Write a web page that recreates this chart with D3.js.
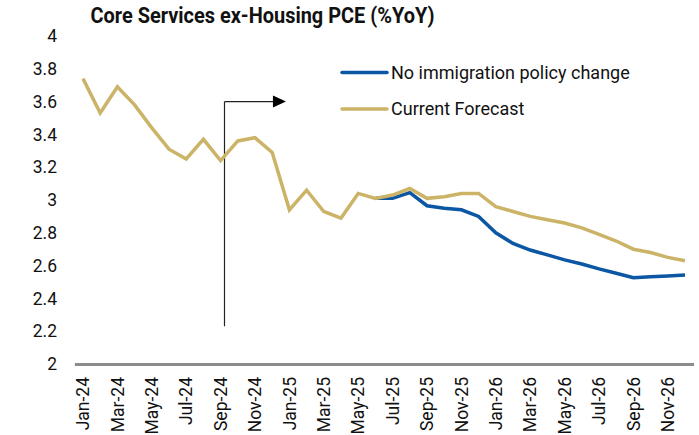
<!DOCTYPE html>
<html><head><meta charset="utf-8">
<script src="https://cdn.jsdelivr.net/npm/d3@7"></script>
<style>body{margin:0;background:#fff}svg{display:block}text{font-family:Roboto,"Liberation Sans",sans-serif;fill:#111}</style>
</head><body>
<svg id="c" width="699" height="435"></svg>
<script>
const months = ["Jan-24","Feb-24","Mar-24","Apr-24","May-24","Jun-24","Jul-24","Aug-24","Sep-24","Oct-24","Nov-24","Dec-24",
"Jan-25","Feb-25","Mar-25","Apr-25","May-25","Jun-25","Jul-25","Aug-25","Sep-25","Oct-25","Nov-25","Dec-25",
"Jan-26","Feb-26","Mar-26","Apr-26","May-26","Jun-26","Jul-26","Aug-26","Sep-26","Oct-26","Nov-26","Dec-26"];
const currentForecast = [3.74,3.53,3.69,3.58,3.44,3.31,3.25,3.37,3.24,3.36,3.38,3.29,
2.94,3.06,2.93,2.89,3.04,3.01,3.03,3.07,3.01,3.02,3.04,3.04,
2.96,2.93,2.90,2.88,2.86,2.83,2.79,2.75,2.70,2.68,2.65,2.63];
const noPolicyChange = [null,null,null,null,null,null,null,null,null,null,null,null,
null,null,null,null,null,3.01,3.01,3.045,2.965,2.95,2.94,2.90,
2.80,2.735,2.695,2.665,2.635,2.61,2.58,2.553,2.526,2.532,2.537,2.543];
const yTicks = [2,2.2,2.4,2.6,2.8,3,3.2,3.4,3.6,3.8,4];
const xTickLabels = months.filter((d,i)=>i%2===0);
const seriesNames = ["No immigration policy change","Current Forecast"];
const seriesColors = ["#0B57A4","#CBB468"];
const annotation = {startIndex:8.18, top:3.6, bottom:2.23, arrowEnd:11.8};

const svg = d3.select("#c");
const x = d3.scaleBand().domain(months).range([74.4,693.6]);
const y = d3.scaleLinear().domain([2,4]).range([364,36]);
const cx = m => x(m)+x.bandwidth()/2;
const xi = i => x.range()[0] + x.bandwidth()*(i+0.5);

svg.append("text").attr("x",90.5).attr("y",23).attr("font-weight","bold").attr("font-size",22.5)
  .attr("textLength",344).attr("lengthAdjust","spacingAndGlyphs")
  .text("Core Services ex-Housing PCE (%YoY)");

// y axis labels
const ya = svg.append("g").attr("transform","translate(57,0)")
  .call(d3.axisLeft(y).tickValues(yTicks).tickSize(0).tickPadding(0).tickFormat(d3.format("")));
ya.select(".domain").remove();
ya.selectAll("text").attr("font-size",17.5).attr("font-family","Roboto").attr("fill","#111");

// x axis
const xa = svg.append("g").attr("transform","translate(0,364)")
  .call(d3.axisBottom(x).tickValues(xTickLabels).tickSize(0).tickPadding(0));
xa.select(".domain").attr("stroke","#8c8c8c").attr("stroke-width",3);
xa.selectAll("text").attr("font-size",17.5).attr("font-family","Roboto").attr("fill","#111")
  .attr("transform","rotate(-90)").attr("text-anchor","end").attr("dy","0.35em").attr("x",-13).attr("y",0);

// annotation
const ax = Math.round(xi(annotation.startIndex))+0.5;
svg.append("line").attr("x1",ax).attr("x2",ax).attr("y1",y(annotation.top)).attr("y2",y(annotation.bottom))
  .attr("stroke","#222").attr("stroke-width",1.2);
const tipX = xi(annotation.arrowEnd);
const ay = y(annotation.top);
svg.append("line").attr("x1",ax).attr("x2",tipX-12).attr("y1",ay).attr("y2",ay).attr("stroke","#222").attr("stroke-width",1.2);
svg.append("path").attr("d",`M${tipX-13},${ay-6}L${tipX},${ay}L${tipX-13},${ay+6}Z`).attr("fill","#000");

// lines
const line = d3.line().defined(d=>d.v!=null).x(d=>cx(d.m)).y(d=>y(d.v));
[noPolicyChange,currentForecast].forEach((vals,i)=>{
  svg.append("path").datum(months.map((m,j)=>({m,v:vals[j]})))
    .attr("d",line).attr("fill","none").attr("stroke",seriesColors[i]).attr("stroke-width",3.5)
    .attr("stroke-linejoin","miter");
});

// legend
const lg = svg.append("g");
seriesNames.forEach((n,i)=>{
  const ly = 72.5 + i*36.5;
  lg.append("line").attr("x1",342).attr("x2",387).attr("y1",ly).attr("y2",ly)
    .attr("stroke",seriesColors[i]).attr("stroke-width",3.5).attr("stroke-linecap","round");
  lg.append("text").attr("x",391).attr("y",ly).attr("dy","0.36em").attr("font-size",18).text(n);
});
</script>
</body></html>
